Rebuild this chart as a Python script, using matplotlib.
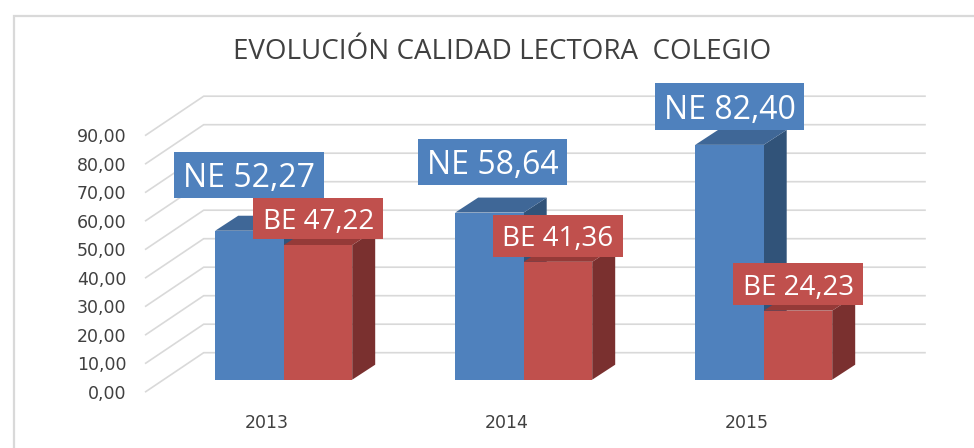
import matplotlib
matplotlib.use("Agg")
import matplotlib.pyplot as plt
from matplotlib.lines import Line2D
from matplotlib.patches import Polygon, Rectangle
from matplotlib.transforms import Affine2D

# datos
years = ["2013", "2014", "2015"]
ne = [52.27, 58.64, 82.40]
be = [47.22, 41.36, 24.23]
yticks = [0, 10, 20, 30, 40, 50, 60, 70, 80, 90]
title = "EVOLUCIÓN CALIDAD LECTORA  COLEGIO"

# colores
BLUE, BLUE_TOP, BLUE_SIDE = "#4F81BD", "#3F6797", "#315379"
RED, RED_TOP, RED_SIDE = "#C0504D", "#953A38", "#7A302F"
GRID = "#D9D9D9"
TXT = "#404040"

W, H = 974, 448
PX_X = 240.0   # px por categoria
PX_Y = 2.85    # px por unidad

fig = plt.figure(figsize=(W / 100, H / 100), dpi=100, facecolor="white")
left, right, floor_y, top_y = 145.7, 925, 391.7, 96
ax = fig.add_axes([left / W, 1 - floor_y / H, (right - left) / W, (floor_y - top_y) / H])
ax.set_xlim((left - 267) / PX_X, (right - 267) / PX_X)
ax.set_ylim(0, (floor_y - top_y) / PX_Y)
ax.patch.set_visible(False)
for s in ax.spines.values():
    s.set_visible(False)

# profundidad del grafico 3D
wall_dx, wall_dy = 58 / PX_X, 39 / PX_Y
bar_dx, bar_dy = 23 / PX_X, 15 / PX_Y
base = 12 / PX_Y
shift = 16.7 / PX_X
bw = 68.5 / PX_X

x0 = ax.get_xlim()[0]
x1 = ax.get_xlim()[1]
for v in yticks:
    ax.plot([x0, x0 + wall_dx, x1], [v, v + wall_dy, v + wall_dy], color=GRID, lw=1.2,
            clip_on=False, zorder=1, solid_joinstyle="miter")


def bar3d(xl, val, front, top, side):
    yb, yt = base, base + val
    ax.bar(xl, val, bw, bottom=base, align="edge", color=front, zorder=3)
    ax.add_patch(Polygon([(xl + bw, yb), (xl + bw + bar_dx, yb + bar_dy),
                          (xl + bw + bar_dx, yt + bar_dy), (xl + bw, yt)],
                         color=side, lw=0, zorder=2.5))
    ax.add_patch(Polygon([(xl, yt), (xl + bar_dx, yt + bar_dy),
                          (xl + bw + bar_dx, yt + bar_dy), (xl + bw, yt)],
                         color=top, lw=0, zorder=2.5))


for i in range(len(years)):
    bar3d(i + shift - bw, ne[i], BLUE, BLUE_TOP, BLUE_SIDE)
for i in range(len(years)):
    bar3d(i + shift, be[i], RED, RED_TOP, RED_SIDE)

ax.set_yticks(yticks)
ax.set_yticklabels([f"{v:.2f}".replace(".", ",") for v in yticks], fontsize=12.5, color=TXT,
                   family="DejaVu Sans")
ax.set_xticks(range(len(years)))
ax.set_xticklabels(years, fontsize=12.5, color=TXT, family="DejaVu Sans")
ax.tick_params(axis="y", length=0, pad=14)
ax.tick_params(axis="x", length=0, pad=16)

# etiquetas en px de la imagen (y hacia abajo)
px = Affine2D().scale(1, -1).translate(0, H)
ne_boxes = [(174.3, 152, 323.7, 197.7), (418, 139, 566.7, 184.7), (655.3, 83, 803.7, 130)]
be_boxes = [(253.3, 198, 383, 239), (493, 215, 622.7, 256.7), (733.3, 263, 863, 305)]


def label(box, txt, color, size):
    a, b, c, d = box
    fig.add_artist(Rectangle((a, b), c - a, d - b, transform=px, color=color, lw=0, zorder=5))
    fig.text((a + c) / 2, (b + d) / 2, txt, transform=px, color="white", fontsize=size,
             family="Open Sans", ha="center", va="center_baseline", zorder=6)


for i in range(len(years)):
    label(ne_boxes[i], "NE " + f"{ne[i]:.2f}".replace(".", ","), BLUE, 23)
for i in range(len(years)):
    label(be_boxes[i], "BE " + f"{be[i]:.2f}".replace(".", ","), RED, 20)

fig.text(502 / W, 1 - 52 / H, title, fontsize=20, color=TXT, family="Open Sans",
         ha="center", va="center")

# borde del grafico
fig.add_artist(Line2D([14, 14, W], [H, 16, 16], transform=px, color=GRID, lw=1.6,
                      solid_joinstyle="miter"))

fig.savefig("out.png", dpi=100)
